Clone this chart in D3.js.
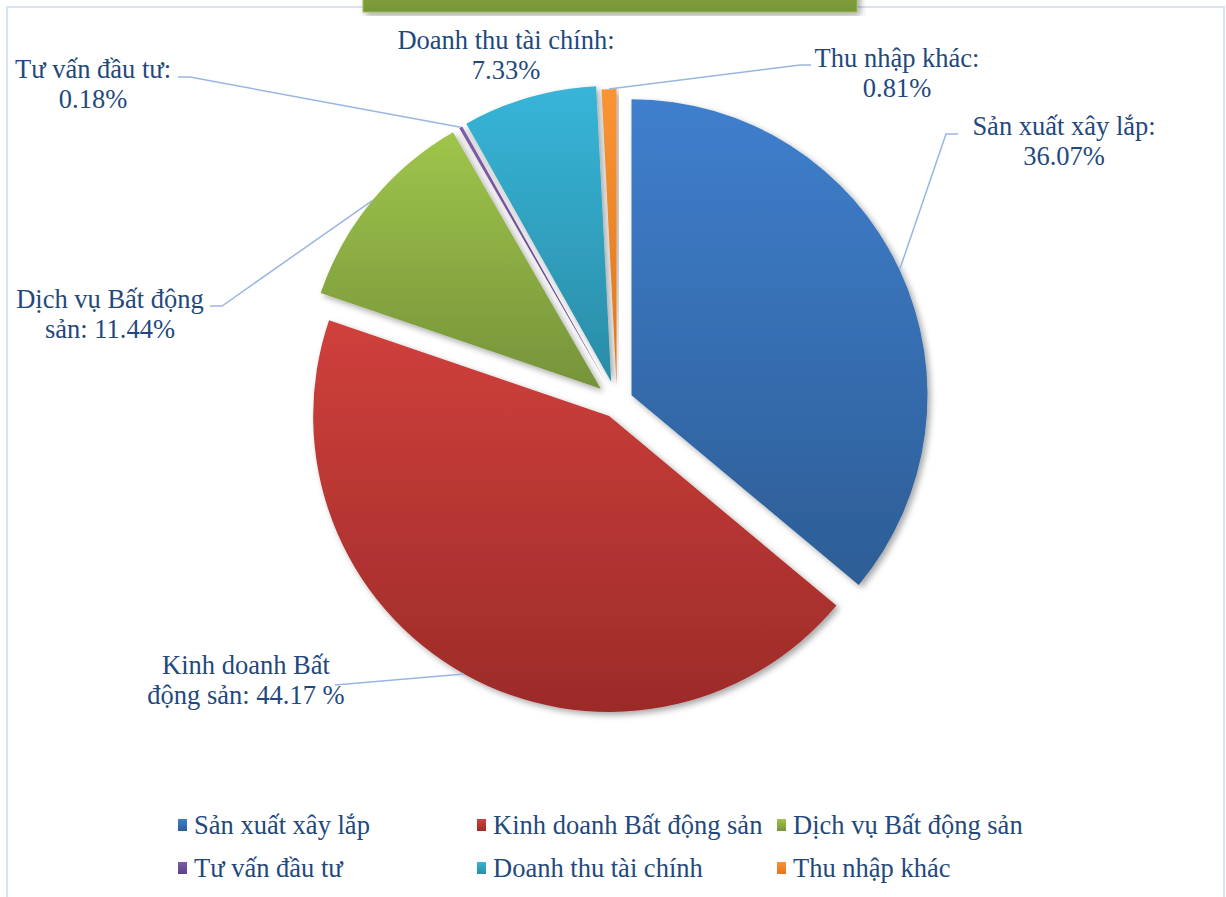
<!DOCTYPE html>
<html>
<head>
<meta charset="utf-8">
<script src="https://cdn.jsdelivr.net/npm/d3@7"></script>
<style>
  html, body { margin: 0; padding: 0; background: #fff; }
  svg { display: block; }
</style>
</head>
<body>
<div id="chart"></div>
<script>
// data
var categories = ["Sản xuất xây lắp", "Kinh doanh Bất động sản", "Dịch vụ Bất động sản",
                  "Tư vấn đầu tư", "Doanh thu tài chính", "Thu nhập khác"];
var values = [36.07, 44.17, 11.44, 0.18, 7.33, 0.81];
var labelLines = [
  ["Sản xuất xây lắp:", "36.07%"],
  ["Kinh doanh Bất", "động sản: 44.17 %"],
  ["Dịch vụ Bất động", "sản: 11.44%"],
  ["Tư vấn đầu tư:", "0.18%"],
  ["Doanh thu tài chính:", "7.33%"],
  ["Thu nhập khác:", "0.81%"]
];
var colorsTop = ["#3f7fcd", "#d0403c", "#9fc54b", "#7e5ca9", "#37b5d8", "#fa9434"];
var colorsBottom = ["#2d5d95", "#9c2b28", "#76933a", "#5d4282", "#2a8ca6", "#de761f"];

var W = 1226, H = 897;
var cx = 617, cy = 402, R = 296;
var explode = [16, 16, 21, 20, 21, 17];
var font = "'Liberation Serif', 'Times New Roman', serif";

var svg = d3.select("#chart").append("svg")
    .attr("width", W)
    .attr("height", H);

var defs = svg.append("defs");

var shadow = defs.append("filter")
    .attr("id", "shadow")
    .attr("x", "-10%").attr("y", "-10%")
    .attr("width", "120%").attr("height", "120%");
shadow.append("feDropShadow")
    .attr("dx", 3).attr("dy", 3)
    .attr("stdDeviation", 3)
    .attr("flood-color", "#000")
    .attr("flood-opacity", 0.35);

categories.forEach(function(c, i) {
  var g = defs.append("linearGradient")
      .attr("id", "grad" + i)
      .attr("x1", 0).attr("y1", 0).attr("x2", 0).attr("y2", 1);
  g.append("stop").attr("offset", "0%").attr("stop-color", colorsTop[i]);
  g.append("stop").attr("offset", "100%").attr("stop-color", colorsBottom[i]);
});

var tg = defs.append("linearGradient")
    .attr("id", "titleGrad")
    .attr("x1", 0).attr("y1", 0).attr("x2", 0).attr("y2", 1);
tg.append("stop").attr("offset", "0%").attr("stop-color", "#86a840");
tg.append("stop").attr("offset", "100%").attr("stop-color", "#779638");

// chart area border
svg.append("rect")
    .attr("x", 7).attr("y", 7)
    .attr("width", 1217).attr("height", 905)
    .attr("fill", "none")
    .attr("stroke", "#d9e3f4")
    .attr("stroke-width", 2);

// title box (cut off at the top)
svg.append("rect")
    .attr("x", 363).attr("y", -20)
    .attr("width", 494).attr("height", 32)
    .attr("fill", "url(#titleGrad)")
    .attr("stroke", "#9bbb59")
    .attr("stroke-width", 1)
    .attr("filter", "url(#shadow)");

var pie = d3.pie().sort(null).value(function(d) { return d; });
var arcs = pie(values);

var arc = d3.arc().innerRadius(0).outerRadius(R);

function offset(a) {
  var m = (a.startAngle + a.endAngle) / 2;
  var e = explode[a.index];
  return [Math.sin(m) * e, -Math.cos(m) * e];
}

var slices = svg.append("g")
    .attr("transform", "translate(" + cx + "," + cy + ")");

slices.selectAll("path")
  .data(arcs)
  .enter().append("path")
    .attr("d", arc)
    .attr("fill", function(d, i) { return "url(#grad" + i + ")"; })
    .attr("filter", "url(#shadow)")
    .attr("transform", function(d) {
      var o = offset(d);
      return "translate(" + o[0] + "," + o[1] + ")";
    });

// data labels and leader lines
var labelPos = [
  { x: 1064, y: 135, from: [[958, 134], [946, 134]] },
  { x: 246, y: 674, from: [[335, 685]] },
  { x: 110, y: 308, from: [[210, 306], [222, 306]] },
  { x: 93, y: 78, from: [[178, 77], [190, 77]] },
  { x: 506, y: 49, from: null },
  { x: 897, y: 67, from: [[811, 65], [800, 65]] }
];

var line = d3.line();

arcs.forEach(function(a, i) {
  var p = labelPos[i];
  if (p.from) {
    var m = (a.startAngle + a.endAngle) / 2;
    var o = offset(a);
    var end = [cx + o[0] + Math.sin(m) * R, cy + o[1] - Math.cos(m) * R];
    svg.append("path")
        .attr("d", line(p.from.concat([end])))
        .attr("fill", "none")
        .attr("stroke", "#98b6e2")
        .attr("stroke-width", 1.5);
  }
  var t = svg.append("text")
      .attr("x", p.x).attr("y", p.y)
      .attr("text-anchor", "middle")
      .attr("font-family", font)
      .attr("font-size", 26.5)
      .attr("fill", "#1f497d");
  labelLines[i].forEach(function(s, k) {
    t.append("tspan")
        .attr("x", p.x)
        .attr("dy", k === 0 ? 0 : 30)
        .text(s);
  });
});

// legend
var legendCols = [178, 477, 777];
var legendRows = [834, 877];

var legend = svg.selectAll("g.legend")
  .data(categories)
  .enter().append("g")
    .attr("class", "legend")
    .attr("transform", function(d, i) {
      return "translate(" + legendCols[i % 3] + "," + legendRows[Math.floor(i / 3)] + ")";
    });

legend.append("rect")
    .attr("x", 0).attr("y", -15)
    .attr("width", 9).attr("height", 12)
    .attr("fill", function(d, i) { return "url(#grad" + i + ")"; });

legend.append("text")
    .attr("x", 16).attr("y", 0)
    .attr("font-family", font)
    .attr("font-size", 26.5)
    .attr("fill", "#1f497d")
    .text(function(d) { return d; });
</script>
</body>
</html>
